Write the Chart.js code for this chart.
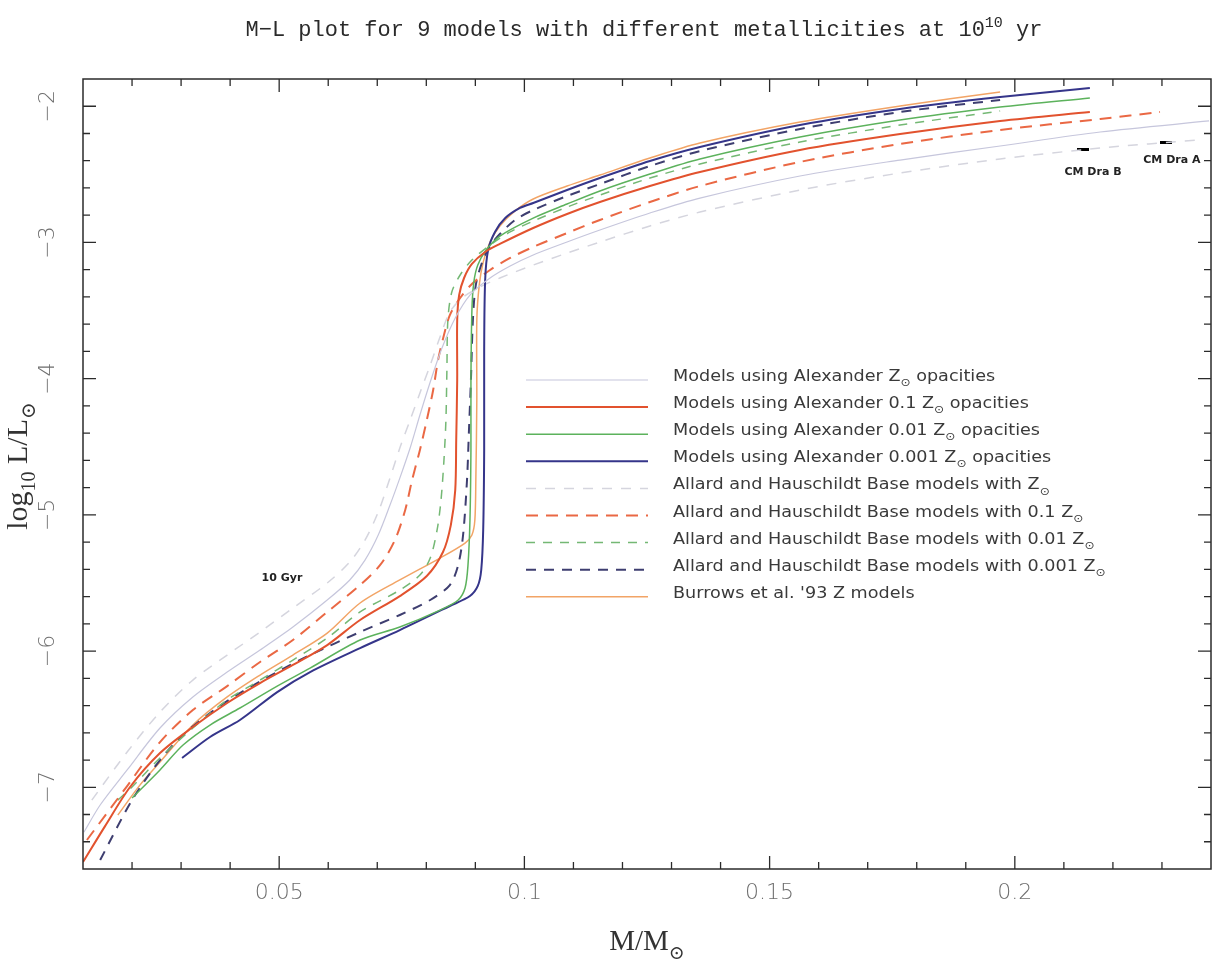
<!DOCTYPE html>
<html><head><meta charset="utf-8">
<script src="https://cdn.jsdelivr.net/npm/chart.js@4.4.1/dist/chart.umd.min.js"></script>
<style>html,body{margin:0;padding:0;background:#fff;overflow:hidden;}#wrap{width:1213px;height:960px;}canvas{display:block;}</style>
</head><body><div id="wrap"><canvas id="c" width="1213" height="960"></canvas></div>
<script>
// ---------- DATA (M/Msun, log10 L/Lsun) ----------
const alexZ_mass = [0.0102,0.0135,0.0190,0.0257,0.0324,0.0394,0.0461,0.0528,0.0598,0.0644,0.0675,0.0702,0.0726,0.0746,0.0767,0.0787,0.0808,0.0832,0.0859,0.0889,0.0930,0.0971,0.1018,0.1087,0.1154,0.1256,0.1358,0.1562,0.1766,0.1970,0.2174,0.2396];
const alexZ_logL = [-7.329,-7.130,-6.873,-6.565,-6.337,-6.154,-5.992,-5.823,-5.625,-5.478,-5.332,-5.148,-4.928,-4.730,-4.509,-4.267,-4.025,-3.775,-3.555,-3.386,-3.261,-3.173,-3.092,-2.997,-2.909,-2.784,-2.674,-2.512,-2.395,-2.292,-2.189,-2.108];

const alex01_mass = [0.0100,0.0145,0.0196,0.0257,0.0324,0.0394,0.0461,0.0528,0.0598,0.0665,0.0746,0.0801,0.0834,0.0850,0.0859,0.0861,0.0863,0.0863,0.0867,0.0877,0.0893,0.0920,0.0950,0.1018,0.1087,0.1154,0.1256,0.1358,0.1562,0.1766,0.1970,0.2153];
const alex01_logL = [-7.549,-7.285,-6.998,-6.749,-6.558,-6.381,-6.235,-6.102,-5.956,-5.772,-5.596,-5.449,-5.273,-5.075,-4.818,-4.451,-4.010,-3.569,-3.386,-3.261,-3.158,-3.070,-3.011,-2.894,-2.791,-2.703,-2.586,-2.483,-2.321,-2.204,-2.108,-2.042];

const alex001_mass = [0.0200,0.0257,0.0304,0.0359,0.0420,0.0496,0.0563,0.0665,0.0746,0.0828,0.0865,0.0879,0.0885,0.0889,0.0891,0.0891,0.0893,0.0897,0.0905,0.0922,0.0950,0.1018,0.1087,0.1154,0.1256,0.1358,0.1562,0.1766,0.1970,0.2153];
const alex001_logL = [-7.079,-6.873,-6.690,-6.543,-6.418,-6.257,-6.125,-5.919,-5.823,-5.699,-5.625,-5.537,-5.368,-5.038,-4.524,-4.010,-3.496,-3.290,-3.166,-3.056,-2.953,-2.821,-2.718,-2.622,-2.498,-2.387,-2.226,-2.101,-2.006,-1.939];

const alex0001_mass = [0.0302,0.0359,0.0420,0.0496,0.0563,0.0665,0.0746,0.0848,0.0889,0.0905,0.0912,0.0916,0.0918,0.0918,0.0920,0.0926,0.0940,0.0961,0.0991,0.1018,0.1087,0.1154,0.1256,0.1358,0.1562,0.1766,0.1970,0.2153];
const alex0001_logL = [-6.785,-6.631,-6.506,-6.301,-6.154,-5.978,-5.846,-5.669,-5.596,-5.522,-5.405,-5.111,-4.524,-3.790,-3.276,-3.056,-2.923,-2.821,-2.747,-2.710,-2.615,-2.527,-2.402,-2.299,-2.138,-2.020,-1.932,-1.866];

const allardZ_mass = [0.0118,0.0190,0.0257,0.0324,0.0394,0.0461,0.0528,0.0598,0.0644,0.0675,0.0702,0.0726,0.0746,0.0767,0.0787,0.0808,0.0828,0.0848,0.0873,0.0905,0.0950,0.1018,0.1087,0.1154,0.1256,0.1358,0.1562,0.1766,0.1970,0.2174,0.2372];
const allardZ_logL = [-7.094,-6.741,-6.448,-6.213,-6.029,-5.860,-5.684,-5.500,-5.346,-5.185,-4.979,-4.730,-4.509,-4.304,-4.105,-3.900,-3.694,-3.511,-3.408,-3.335,-3.261,-3.166,-3.078,-2.997,-2.879,-2.777,-2.615,-2.490,-2.387,-2.307,-2.248];

const allard01_mass = [0.0108,0.0190,0.0257,0.0324,0.0394,0.0461,0.0528,0.0598,0.0665,0.0706,0.0736,0.0757,0.0771,0.0787,0.0801,0.0814,0.0824,0.0836,0.0848,0.0869,0.0893,0.0930,0.0971,0.1018,0.1087,0.1154,0.1256,0.1358,0.1562,0.1766,0.1970,0.2174,0.2296];
const allard01_logL = [-7.387,-6.991,-6.668,-6.433,-6.257,-6.080,-5.919,-5.713,-5.515,-5.368,-5.185,-4.964,-4.744,-4.524,-4.304,-4.083,-3.863,-3.680,-3.533,-3.408,-3.305,-3.202,-3.114,-3.033,-2.931,-2.835,-2.703,-2.586,-2.409,-2.277,-2.174,-2.094,-2.042];

const allard001_mass = [0.0171,0.0200,0.0257,0.0324,0.0394,0.0461,0.0528,0.0598,0.0665,0.0746,0.0787,0.0808,0.0822,0.0830,0.0836,0.0840,0.0842,0.0844,0.0852,0.0869,0.0893,0.0930,0.0971,0.1018,0.1087,0.1154,0.1256,0.1358,0.1562,0.1766,0.1970];
const allard001_logL = [-7.094,-6.998,-6.785,-6.565,-6.359,-6.213,-6.066,-5.904,-5.713,-5.552,-5.442,-5.317,-5.111,-4.891,-4.597,-4.304,-3.937,-3.569,-3.364,-3.239,-3.129,-3.019,-2.923,-2.843,-2.740,-2.652,-2.527,-2.424,-2.263,-2.138,-2.035];

const allard0001_mass = [0.0135,0.0200,0.0257,0.0304,0.0359,0.0420,0.0496,0.0563,0.0665,0.0746,0.0808,0.0848,0.0865,0.0875,0.0883,0.0887,0.0891,0.0895,0.0901,0.0914,0.0930,0.0950,0.0981,0.1018,0.1087,0.1154,0.1256,0.1358,0.1562,0.1766,0.1970];
const allard0001_logL = [-7.534,-7.094,-6.800,-6.616,-6.455,-6.308,-6.154,-6.029,-5.860,-5.735,-5.625,-5.515,-5.368,-5.148,-4.744,-4.377,-4.010,-3.569,-3.312,-3.144,-3.026,-2.938,-2.835,-2.762,-2.659,-2.571,-2.439,-2.329,-2.167,-2.042,-1.954];

const burrows_mass = [0.0171,0.0216,0.0257,0.0324,0.0394,0.0461,0.0528,0.0598,0.0665,0.0746,0.0828,0.0879,0.0893,0.0899,0.0901,0.0903,0.0903,0.0908,0.0916,0.0930,0.0950,0.0981,0.1018,0.1087,0.1154,0.1256,0.1358,0.1562,0.1766,0.1970];
const burrows_logL = [-7.204,-6.984,-6.815,-6.543,-6.337,-6.176,-6.029,-5.868,-5.647,-5.478,-5.317,-5.207,-5.148,-5.038,-4.744,-4.157,-3.569,-3.312,-3.144,-2.997,-2.879,-2.769,-2.681,-2.586,-2.505,-2.380,-2.270,-2.116,-1.998,-1.895];

// CM Draconis components
const cmDra_names = ['CM Dra B','CM Dra A'];
const cmDra_mass = [0.2138,0.2309];
const cmDra_logL = [-2.321,-2.263];

// axes / ticks
const X_MIN = 0.01, X_MAX = 0.24, Y_MIN = -7.6, Y_MAX = -1.8;
const xMajorTicks = [0.05,0.1,0.15,0.2];
const xTickLabels = ['0.05','0.1','0.15','0.2'];
const yMajorTicks = [-7,-6,-5,-4,-3,-2];
const yTickLabels = ['\u22127','\u22126','\u22125','\u22124','\u22123','\u22122'];
const xMinorStep = 0.01, yMinorStep = 0.2;

const titleText = 'M\u2212L plot for 9 models with different metallicities at 10^{10} yr';
const xTitleText = 'M/M_{\u2299}';
const yTitleText = 'log_{10} L/L_{\u2299}';
const annotationText = '10 Gyr';

const seriesLabels = [
  'Models using Alexander Z_{\u2299} opacities',
  'Models using Alexander 0.1 Z_{\u2299} opacities',
  'Models using Alexander 0.01 Z_{\u2299} opacities',
  'Models using Alexander 0.001 Z_{\u2299} opacities',
  'Allard and Hauschildt Base models with Z_{\u2299}',
  'Allard and Hauschildt Base models with 0.1 Z_{\u2299}',
  'Allard and Hauschildt Base models with 0.01 Z_{\u2299}',
  'Allard and Hauschildt Base models with 0.001 Z_{\u2299}',
  'Burrows et al. \'93 Z models'
];
const seriesMass = [alexZ_mass,alex01_mass,alex001_mass,alex0001_mass,allardZ_mass,allard01_mass,allard001_mass,allard0001_mass,burrows_mass];
const seriesLogL = [alexZ_logL,alex01_logL,alex001_logL,alex0001_logL,allardZ_logL,allard01_logL,allard001_logL,allard0001_logL,burrows_logL];
const seriesColors = ['#c6c6dc','#e2522e','#5cb25c','#35358a','#d5d5de','#ea6844','#74b874','#3e3e70','#f2a466'];
const seriesWidths = [1.2,2,1.5,2,1.5,2,1.5,2,1.5];
const seriesDashes = [[],[],[],[],[10,9],[12,8],[9,8],[10,8],[]];

// ---------- helpers ----------
function parseRich(s){
  const parts=[]; const re=/(_\{[^}]*\}|\^\{[^}]*\})/g; let last=0, m;
  while((m=re.exec(s))){ if(m.index>last) parts.push({t:s.slice(last,m.index)});
    parts.push({t:m[0].slice(2,-1), sub:m[0][0]==='_', sup:m[0][0]==='^'}); last=re.lastIndex; }
  if(last<s.length) parts.push({t:s.slice(last)}); return parts;
}
function fontFor(p,size,family,weight){ const sz=(p.sub||p.sup)?Math.round(size*0.66):size; return (weight||'normal')+' '+sz+'px '+family; }
function drawRich(ctx,s,x,y,size,family,align,weight,subDrop){
  const parts=parseRich(s); let w=0;
  parts.forEach(p=>{ctx.font=fontFor(p,size,family,weight); p.w=ctx.measureText(p.t).width; w+=p.w;});
  let cx = align==='center'? x-w/2 : (align==='right'? x-w : x);
  ctx.textAlign='left'; ctx.textBaseline='alphabetic';
  const sd = subDrop===undefined ? 0.32 : subDrop;
  parts.forEach(p=>{ctx.font=fontFor(p,size,family,weight);
    const dy=p.sub?size*sd:(p.sup?-size*0.42:0);
    ctx.fillText(p.t,cx,y+dy); cx+=p.w;});
}

const SANS='"DejaVu Sans", sans-serif';
const SERIF='"Liberation Serif", "DejaVu Serif", serif';
const MONO='"Liberation Mono", "DejaVu Sans Mono", monospace';

const decor = {
  id:'decor',
  beforeDraw(chart){ const c=chart.ctx; c.save(); c.fillStyle='#fff'; c.fillRect(0,0,chart.width,chart.height); c.restore(); },
  afterDraw(chart){
    const ctx=chart.ctx, xs=chart.scales.x, ys=chart.scales.y, a=chart.chartArea;
    ctx.save();
    // frame
    ctx.strokeStyle='#2b2b2b'; ctx.lineWidth=1.5;
    ctx.strokeRect(a.left,a.top,a.right-a.left,a.bottom-a.top);
    // ticks
    ctx.lineWidth=1.3;
    const isMajor=(v,arr)=>arr.some(t=>Math.abs(t-v)<1e-7);
    for(let k=Math.ceil(X_MIN/xMinorStep-1e-6); k*xMinorStep<=X_MAX+1e-9; k++){
      const v=k*xMinorStep; const px=xs.getPixelForValue(v);
      if(px<=a.left+1||px>=a.right-1) continue;
      const len=isMajor(v,xMajorTicks)?13:7;
      ctx.beginPath(); ctx.moveTo(px,a.bottom); ctx.lineTo(px,a.bottom-len);
      ctx.moveTo(px,a.top); ctx.lineTo(px,a.top+len); ctx.stroke();
    }
    for(let k=Math.ceil(Y_MIN/yMinorStep-1e-6); k*yMinorStep<=Y_MAX+1e-9; k++){
      const v=k*yMinorStep; const py=ys.getPixelForValue(v);
      if(py<=a.top+1||py>=a.bottom-1) continue;
      const len=isMajor(v,yMajorTicks)?13:7;
      ctx.beginPath(); ctx.moveTo(a.left,py); ctx.lineTo(a.left+len,py);
      ctx.moveTo(a.right,py); ctx.lineTo(a.right-len,py); ctx.stroke();
    }
    // tick labels
    ctx.fillStyle='#6e6e6e';
    xMajorTicks.forEach((v,i)=>{ drawRich(ctx,xTickLabels[i],xs.getPixelForValue(v),a.bottom+30,22,SANS,'center','300'); });
    yMajorTicks.forEach((v,i)=>{ ctx.save(); ctx.translate(46,ys.getPixelForValue(v)); ctx.rotate(-Math.PI/2);
      drawRich(ctx,yTickLabels[i],0,8,22,SANS,'center','300'); ctx.restore(); });
    // axis titles
    ctx.fillStyle='#333';
    drawRich(ctx,xTitleText,(a.left+a.right)/2,950,29,SERIF,'center');
    ctx.save(); ctx.translate(27,466); ctx.rotate(-Math.PI/2); drawRich(ctx,yTitleText,0,0,30,SERIF,'center',undefined,0.25); ctx.restore();
    // title
    ctx.fillStyle='#2a2a2a';
    drawRich(ctx,titleText,644,36,22,MONO,'center');
    // legend
    const lx0=526, lx1=648, tx=673, ly0=380, lstep=27.1;
    seriesLabels.forEach((lab,i)=>{
      const y=ly0+i*lstep;
      ctx.save(); ctx.strokeStyle=seriesColors[i]; ctx.lineWidth=seriesWidths[i]; ctx.setLineDash(seriesDashes[i]);
      ctx.beginPath(); ctx.moveTo(lx0,y); ctx.lineTo(lx1,y); ctx.stroke(); ctx.restore();
      ctx.save(); ctx.translate(tx,y+1); ctx.scale(1.1,1);
      ctx.fillStyle='#3a3a3a'; drawRich(ctx,lab,0,0,16,SANS,'left'); ctx.restore();
    });
    // annotations
    ctx.fillStyle='#222';
    drawRich(ctx,annotationText,282,581,11,SANS,'center','bold');
    const offs=[[10.5,25],[5.5,21]];
    cmDra_names.forEach((n,i)=>{ const px=xs.getPixelForValue(cmDra_mass[i]), py=ys.getPixelForValue(cmDra_logL[i]);
      drawRich(ctx,n,px+offs[i][0],py+offs[i][1],11,SANS,'center','bold'); });
    ctx.restore();
  }
};

const datasets = seriesLabels.map((lab,i)=>({
  label: lab.replace(/_\{([^}]*)\}/g,'$1'),
  data: seriesMass[i].map((m,j)=>({x:m,y:seriesLogL[i][j]})),
  borderColor: seriesColors[i], borderWidth: seriesWidths[i], borderDash: seriesDashes[i],
  pointRadius:0, fill:false, tension:0.3
}));
// marker glyph for the CM Dra points: a short thick horizontal bar
const bar = document.createElement('canvas'); bar.width=12; bar.height=3;
(function(){ const b=bar.getContext('2d'); b.fillStyle='#000'; b.fillRect(0,0,12,3); })();
datasets.push({
  label:'CM Dra', data: cmDra_mass.map((m,j)=>({x:m,y:cmDra_logL[j]})),
  showLine:false, pointStyle:bar, pointRadius:6, borderColor:'#000', backgroundColor:'#000'
});

new Chart(document.getElementById('c'),{
  type:'line',
  data:{datasets},
  options:{
    responsive:false, animation:false, devicePixelRatio:1, events:[],
    layout:{autoPadding:false, padding:{left:83,right:2,top:79,bottom:91}},
    plugins:{legend:{display:false},tooltip:{enabled:false},title:{display:false}},
    scales:{
      x:{type:'linear',min:X_MIN,max:X_MAX,display:false},
      y:{type:'linear',min:Y_MIN,max:Y_MAX,display:false}
    }
  },
  plugins:[decor]
});
</script></body></html>
